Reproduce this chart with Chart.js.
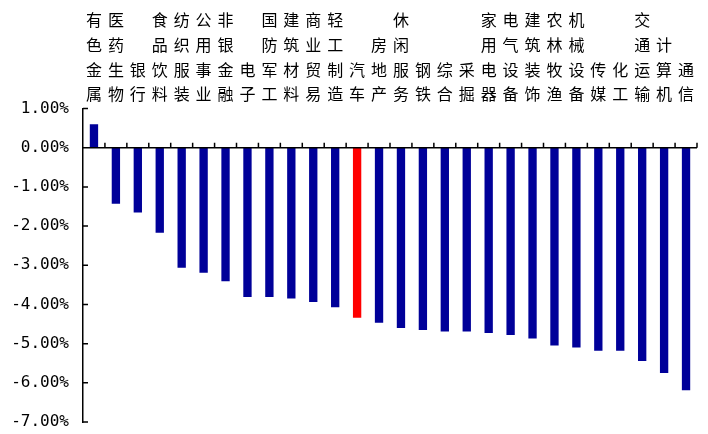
<!DOCTYPE html>
<html>
<head>
<meta charset="utf-8">
<script src="https://cdn.jsdelivr.net/npm/chart.js@4/dist/chart.umd.min.js"></script>
<style>
  html, body { margin: 0; padding: 0; background: #fff; }
  #wrap { width: 708px; height: 434px; }
</style>
</head>
<body>
<div id="wrap"><canvas id="myChart"></canvas></div>
<script>
// industries, shown as vertical text above the plot
var industries = ['有色金属', '医药生物', '银行', '食品饮料', '纺织服装', '公用事业', '非银金融',
    '电子', '国防军工', '建筑材料', '商业贸易', '轻工制造', '汽车', '房地产', '休闲服务',
    '钢铁', '综合', '采掘', '家用电器', '电气设备', '建筑装饰', '农林牧渔', '机械设备',
    '传媒', '化工', '交通运输', '计算机', '通信'];

// weekly change, in percent
var changes = [0.60, -1.43, -1.65, -2.17, -3.06, -3.19, -3.41, -3.81, -3.81, -3.85, -3.94,
    -4.07, -4.34, -4.47, -4.60, -4.65, -4.69, -4.69, -4.73, -4.78, -4.87, -5.05, -5.10,
    -5.18, -5.18, -5.44, -5.75, -6.19];

var highlight = '汽车';
var yMin = -7, yMax = 1, yStep = 1;

var barColors = industries.map(function (name) {
    return name == highlight ? '#ff0000' : '#000099';
});

// small tick marks: upward on the zero line at category edges, inward on the y axis
var tickMarks = {
    id: 'tickMarks',
    afterDatasetsDraw: function (chart) {
        var c = chart.ctx, x = chart.scales.x, y = chart.scales.y;
        var y0 = y.getPixelForValue(0);
        c.save();
        c.strokeStyle = '#000';
        c.lineWidth = 1.5;
        c.beginPath();
        c.moveTo(x.left, y0);
        c.lineTo(x.right, y0);
        for (var i = 1; i <= industries.length; i++) {
            var px = i < industries.length
                ? (x.getPixelForValue(i - 1) + x.getPixelForValue(i)) / 2
                : x.right;
            c.moveTo(px, y0);
            c.lineTo(px, y0 - 5);
        }
        y.ticks.forEach(function (t) {
            var py = y.getPixelForValue(t.value);
            c.moveTo(y.right, py);
            c.lineTo(y.right + 5, py);
        });
        c.stroke();
        c.restore();
    }
};

var ctx = document.getElementById('myChart');
var myChart = new Chart(ctx, {
    type: 'bar',
    data: {
        labels: industries.map(function (s) { return s.split(''); }),
        datasets: [{
            data: changes,
            backgroundColor: barColors,
            barPercentage: 0.38,
            categoryPercentage: 1
        }]
    },
    options: {
        responsive: true,
        maintainAspectRatio: false,
        animation: false,
        layout: { padding: { top: 6, right: 11, left: 0, bottom: 0 } },
        plugins: {
            legend: { display: false },
            tooltip: { enabled: false }
        },
        scales: {
            x: {
                position: 'top',
                grid: { display: false, drawTicks: false },
                border: { display: false },
                ticks: {
                    color: '#000',
                    padding: 2,
                    maxRotation: 0,
                    autoSkip: false,
                    font: { family: '"Noto Sans CJK SC"', size: 16, lineHeight: 1.54 }
                }
            },
            y: {
                min: yMin,
                max: yMax,
                afterFit: function (scale) {
                    scale.width = 83;
                    scale.paddingTop = 10;
                    scale.paddingBottom = 12;
                },
                grid: { display: false, drawTicks: false },
                border: { display: true, color: '#000', width: 1.5 },
                ticks: {
                    stepSize: yStep,
                    color: '#000',
                    padding: 14,
                    font: { family: '"DejaVu Sans Mono"', size: 16 },
                    callback: function (v) { return v.toFixed(2) + '%'; }
                }
            }
        }
    },
    plugins: [tickMarks]
});
</script>
</body>
</html>
